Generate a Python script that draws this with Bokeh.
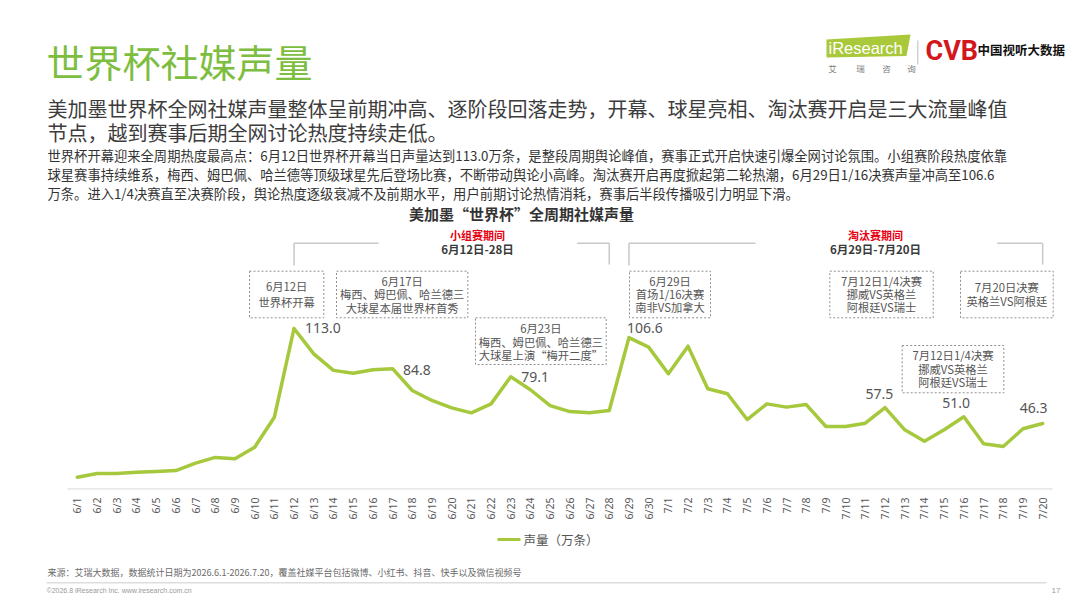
import math
from bokeh.plotting import figure
from bokeh.layouts import column
from bokeh.models import (Range1d, FixedTicker, Label, BoxAnnotation, PolyAnnotation,
                          ColumnDataSource)
from bokeh.core.properties import value
from bokeh.embed import file_html
from bokeh.resources import INLINE

# ---------------- data ----------------
dates = ["6/1", "6/2", "6/3", "6/4", "6/5", "6/6", "6/7", "6/8", "6/9", "6/10",
         "6/11", "6/12", "6/13", "6/14", "6/15", "6/16", "6/17", "6/18", "6/19", "6/20",
         "6/21", "6/22", "6/23", "6/24", "6/25", "6/26", "6/27", "6/28", "6/29", "6/30",
         "7/1", "7/2", "7/3", "7/4", "7/5", "7/6", "7/7", "7/8", "7/9", "7/10",
         "7/11", "7/12", "7/13", "7/14", "7/15", "7/16", "7/17", "7/18", "7/19", "7/20"]
volume = [8.6, 11.2, 11.2, 12.1, 12.6, 13.3, 18.5, 22.5, 21.5, 29.7,
          50.7, 113.0, 95.2, 83.6, 81.6, 84.0, 84.8, 69.5, 62.5, 57.3,
          53.8, 60.1, 79.1, 70.0, 58.9, 54.7, 53.8, 55.4, 106.6, 99.9,
          81.2, 100.6, 70.7, 67.2, 49.1, 60.1, 57.8, 59.6, 44.2, 44.2,
          46.5, 57.5, 41.9, 33.9, 41.9, 51.0, 32.1, 30.2, 42.6, 46.3]
peak_dates = ["6/12", "6/17", "6/23", "6/29", "7/12", "7/16", "7/20"]
series_name = "声量（万条）"

title_text = "世界杯社媒声量"
subtitle_lines = ["美加墨世界杯全网社媒声量整体呈前期冲高、逐阶段回落走势，开幕、球星亮相、淘汰赛开启是三大流量峰值",
                  "节点，越到赛事后期全网讨论热度持续走低。"]
body_lines = ["世界杯开幕迎来全周期热度最高点：6月12日世界杯开幕当日声量达到113.0万条，是整段周期舆论峰值，赛事正式开启快速引爆全网讨论氛围。小组赛阶段热度依靠",
              "球星赛事持续维系，梅西、姆巴佩、哈兰德等顶级球星先后登场比赛，不断带动舆论小高峰。淘汰赛开启再度掀起第二轮热潮，6月29日1/16决赛声量冲高至106.6",
              "万条。进入1/4决赛直至决赛阶段，舆论热度逐级衰减不及前期水平，用户前期讨论热情消耗，赛事后半段传播吸引力明显下滑。"]
chart_title = "美加墨“世界杯”全周期社媒声量"
phase_names = ["小组赛期间", "淘汰赛期间"]
phase_ranges = ["6月12日-28日", "6月29日-7月20日"]
phase_bounds = [("6/12", "6/28"), ("6/29", "7/20")]
notes = [["6月12日", "世界杯开幕"],
         ["6月17日", "梅西、姆巴佩、哈兰德三", "大球星本届世界杯首秀"],
         ["6月23日", "梅西、姆巴佩、哈兰德三", "大球星上演“梅开二度”"],
         ["6月29日", "首场1/16决赛", "南非VS加拿大"],
         ["7月12日1/4决赛", "挪威VS英格兰", "阿根廷VS瑞士"],
         ["7月20日决赛", "英格兰VS阿根廷"],
         ["7月12日1/4决赛", "挪威VS英格兰", "阿根廷VS瑞士"]]
source_text = "来源：艾瑞大数据，数据统计日期为2026.6.1-2026.7.20，覆盖社媒平台包括微博、小红书、抖音、快手以及微信视频号"
copyright_text = "©2026.8 iResearch Inc. www.iresearch.com.cn"
page_no = "17"

# ---------------- layout / style ----------------
CJK = "Noto Sans CJK SC"
LINE_GREEN = "#a6c83c"
TITLE_GREEN = "#7dbd40"
W = 1076
FH = 489            # frame height of the main figure (page y 0 .. 489)
AXH = 38            # axis panel below the frame
BH = 77             # footer figure height
X0PX, XSTEP = 76.85, 19.7   # page x of first category, spacing
YPX = 1.425                 # pixels per unit
XR = ((0 - X0PX) / XSTEP, (W - X0PX) / XSTEP)
YMAX = FH / YPX


def dx(px):
    return (px - X0PX) / XSTEP


def dy(py):
    return (FH - py) / YPX


xs = list(range(len(dates)))

p = figure(width=W, height=FH + AXH, x_range=Range1d(*XR), y_range=Range1d(0, YMAX),
           output_backend="svg", toolbar_location=None, title=None,
           y_axis_location=None,
           min_border_left=0, min_border_right=0, min_border_top=0,
           min_border_bottom=AXH)
p.outline_line_color = None
p.background_fill_color = "white"
p.border_fill_color = "white"
p.xgrid.visible = False
p.ygrid.visible = False

ax = p.xaxis[0]
ax.ticker = FixedTicker(ticks=xs)
ax.major_label_overrides = {i: d for i, d in enumerate(dates)}
ax.major_label_orientation = math.pi / 2
ax.major_label_standoff = 8
ax.major_label_text_font = "Noto Sans"
ax.major_label_text_font_size = "10.5px"
ax.major_label_text_color = "#5a5a5a"
ax.major_tick_line_color = None
ax.minor_tick_line_color = None
ax.major_tick_out = 0
ax.axis_line_color = None

# baseline of the category axis (only across the category span)
p.segment([xs[0] - 0.5], [dy(488.6)], [xs[-1] + 0.5], [dy(488.6)],
          line_color="#e2e2e2", line_width=1.6)

r = p.line(xs, volume, line_color=LINE_GREEN, line_width=3.5,
           line_join="round", line_cap="round")

# value labels at peaks
peak_idx = [dates.index(d) for d in peak_dates]
off_x = [11, 10.5, 10.5, -2, -19.5, -21.5, -23]
off_y = [0, 1, 0, -10, -14, -13.5, -15.5]
lsrc = ColumnDataSource(dict(x=[xs[i] for i in peak_idx],
                             y=[volume[i] for i in peak_idx],
                             t=[f"{volume[i]:.1f}" for i in peak_idx],
                             ox=off_x, oy=off_y))
p.text(x="x", y="y", text="t", x_offset="ox", y_offset="oy", source=lsrc,
       text_font=value("Noto Sans"), text_font_size="14px", text_color="#555555",
       text_align="left", text_baseline="middle")


def lab(fig, fx, fy, px, py, text, size, color="#555555", align="left", bold=False, font=CJK):
    fig.add_layout(Label(x=fx(px), y=fy(py), text=text, text_font=font,
                         text_font_size=f"{size}px", text_color=color,
                         text_align=align, text_baseline="middle",
                         text_font_style="bold" if bold else "normal"))


def labA(*a, **k):
    lab(p, dx, dy, *a, **k)


# headline texts
labA(46, 60, title_text, 38, TITLE_GREEN)
labA(47, 108, subtitle_lines[0], 20, "#3c3c3c")
labA(47, 132, subtitle_lines[1], 20, "#3c3c3c")
for t, yy in zip(body_lines, [155, 174, 193]):
    labA(47, yy, t, 13.3, "#333333")
labA(521, 213, chart_title, 15, "#333333", "center", True)

# phase brackets
BR = "#c8c8c8"
phase_text_x = [477, 875]
gaps = [(378, 576.7), (755, 996.7)]
seg_x0, seg_y0, seg_x1, seg_y1 = [], [], [], []
for (a, b), (g0, g1) in zip(phase_bounds, gaps):
    xa, xb = xs[dates.index(a)], xs[dates.index(b)]
    seg_x0 += [xa, xa, dx(g1), xb]
    seg_y0 += [dy(265), dy(242.7), dy(242.7), dy(242.7)]
    seg_x1 += [xa, dx(g0), xb, xb]
    seg_y1 += [dy(242.7), dy(242.7), dy(242.7), dy(264)]
p.segment(seg_x0, seg_y0, seg_x1, seg_y1, line_color=BR, line_width=1.5)
for name, rng, cx in zip(phase_names, phase_ranges, phase_text_x):
    labA(cx, 234.5, name, 11, "#e60012", "center", True)
    labA(cx, 248.3, rng, 11.5, "#3a3a3a", "center", True)

# annotation boxes
box_rects = [(249, 270.7, 323.3, 317.3), (336, 270.7, 467.3, 317.3),
             (475, 317.3, 605.7, 364), (629, 270.7, 710, 317.3),
             (829.3, 270.7, 932.7, 317.3), (960, 270.7, 1052.7, 317.3),
             (901.7, 345, 1003.3, 392.3)]
box_line_y = [[285, 301.7], [280, 293.5, 307], [327.3, 341, 354.5], [280, 293, 306],
              [280, 293, 306], [286, 300], [354, 368, 381.7]]
for lines, (l, t, rr, b), ly in zip(notes, box_rects, box_line_y):
    p.add_layout(BoxAnnotation(left=dx(l), right=dx(rr), top=dy(t), bottom=dy(b),
                               fill_alpha=0, line_color="#8f8f8f", line_width=1,
                               line_dash="2 2", line_alpha=1))
    cx = (l + rr) / 2
    for s, yy in zip(lines, ly):
        labA(cx, yy, s, 11.3, "#555555", "center")

# logos
p.add_layout(PolyAnnotation(xs=[dx(826), dx(910), dx(906), dx(826)],
                            ys=[dy(39), dy(34), dy(55.5), dy(57)],
                            fill_color="#a9c93b", fill_alpha=1, line_color=None))
labA(828, 47.5, "iResearch", 16.5, "white", font="Liberation Sans")
for ch, cx in zip("艾瑞咨询", [832, 860, 886, 911]):
    labA(cx, 67.5, ch, 8.5, "#7a7a7a", "center")
p.segment([dx(917.3)], [dy(40)], [dx(917.3)], [dy(64)], line_color="#bbbbbb", line_width=1)
labA(925, 50, "CVB", 27, "#d2171d", bold=True, font="Roboto")
labA(977, 48.5, "中国视听大数据", 12.5, "#111111", bold=True)

# ---------------- footer figure (legend + source) ----------------
TOPB = FH + AXH   # page y of top of footer figure
q = figure(width=W, height=BH, x_range=Range1d(0, W), y_range=Range1d(TOPB + BH, TOPB),
           output_backend="svg", toolbar_location=None, title=None,
           x_axis_location=None, y_axis_location=None,
           min_border_left=0, min_border_right=0, min_border_top=0, min_border_bottom=0)
q.outline_line_color = None
q.background_fill_color = "white"
q.border_fill_color = "white"
q.grid.visible = False

ident = lambda v: v
# legend: swatch in the series' line style + series name
q.segment([497], [539], [520], [539], line_color=LINE_GREEN, line_width=3)
lab(q, ident, ident, 523, 539, series_name, 12.5, "#555555")

lab(q, ident, ident, 47, 572.3, source_text, 9, "#6a6a6a")
q.add_layout(BoxAnnotation(left=46, right=1046, top=581.5, bottom=583,
                           fill_color="#dddddd", fill_alpha=1, line_color=None))
lab(q, ident, ident, 46, 590, copyright_text, 7, "#9a9a9a", font="Liberation Sans")
lab(q, ident, ident, 1060, 590, page_no, 8, "#9a9a9a", "right", font="Liberation Sans")

layout = column(p, q, spacing=0)
open("out.html", "w").write(file_html(layout, INLINE))
